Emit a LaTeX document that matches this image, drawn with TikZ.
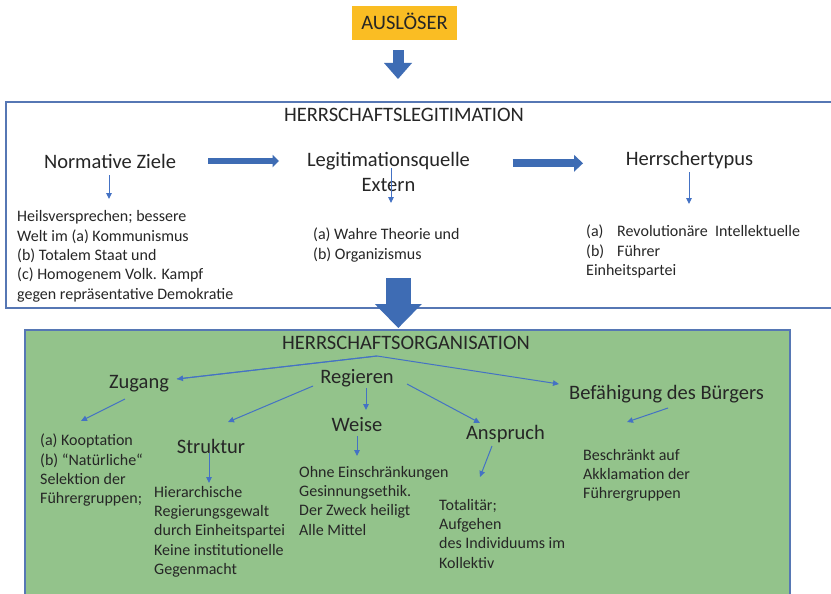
\documentclass[tikz,border=0pt]{standalone}
\usepackage{fontspec}
\setmainfont{Carlito}
\usetikzlibrary{arrows.meta}
\definecolor{ink}{HTML}{262626}
\definecolor{amber}{HTML}{FABD23}
\definecolor{frameblue}{HTML}{5677B4}
\definecolor{leaf}{HTML}{93C38B}
\definecolor{linkblue}{HTML}{4472C4}
\definecolor{blockblue}{HTML}{3E6CB4}

\begin{document}
\begin{tikzpicture}[x=1pt,y=-1pt,
  heading/.style={font=\fontsize{20.5}{25}\selectfont, text=ink, inner sep=0pt, text height=14pt, text depth=4pt},
  body/.style={font=\fontsize{16}{19.3}\selectfont, text=ink, inner sep=0pt, align=left, anchor=north west},
  frame/.style={draw=frameblue, line width=1.6pt, inner sep=0pt, anchor=north west},
  conn/.style={draw=linkblue, line width=1pt, -{Triangle[length=6pt,width=5.5pt]}},
  fat/.style n args={3}{draw=blockblue, line width=#1, -{Triangle[length=#2,width=#3,line width=0pt]}}]

\useasboundingbox (0,0) rectangle (831,594);
\fill[white] (0,0) rectangle (831,594);

% the two frames
\node[frame, minimum width=840pt, minimum height=206pt] (legit) at (5,101) {};
\node[frame, fill=leaf, minimum width=765pt, minimum height=280pt] (org) at (24,329) {};

% trigger
\node[fill=amber, minimum width=105pt, minimum height=34pt, inner sep=0pt,
      font=\fontsize{20.5}{25}\selectfont, text=ink, text height=13pt, text depth=0pt]
      (ausl) at (404.5,23) {AUSLÖSER};

% legitimation of rule
\node[heading] (legtitle) at (404,116.5) {HERRSCHAFTSLEGITIMATION};
\node[heading] (norm) at (110,163.5) {Normative Ziele};
\node[font=\fontsize{20.5}{25}\selectfont, text=ink, inner sep=0pt, align=center, anchor=north]
      (legq) at (388.5,152.5) {Legitimationsquelle\\Extern};
\node[heading] (herr) at (689.5,160.5) {Herrschertypus};

\node[body] (heils) at (17,210.5) {Heilsversprechen; bessere\\Welt im (a) Kommunismus\\(b) Totalem Staat und\\(c) Homogenem Volk. Kampf\\gegen repräsentative Demokratie};
\node[body] (wahre) at (313,227.8) {(a) Wahre Theorie und\\(b) Organizismus};
\node[body] (revol) at (586,224.8) {\makebox[31pt][l]{(a)}Revolutionäre\ \ Intellektuelle\\\makebox[31pt][l]{(b)}Führer\\Einheitspartei};

% organisation of rule
\node[heading] (orgtitle) at (406,344.7) {HERRSCHAFTSORGANISATION};
\node[heading] (zug) at (139,383.7) {Zugang};
\node[heading] (reg) at (357,378.4) {Regieren};
\node[heading] (bef) at (666.5,394) {Befähigung des Bürgers};
\node[heading] (struk) at (211,448.7) {Struktur};
\node[heading] (weise) at (357,426) {Weise};
\node[heading] (ansp) at (505.5,434) {Anspruch};

\node[body] (koop) at (40,433.8) {(a) Kooptation\\(b) “Natürliche“\\Selektion der\\Führergruppen;};
\node[body] (hier) at (154,485.8) {Hierarchische\\Regierungsgewalt\\durch Einheitspartei\\Keine institutionelle\\Gegenmacht};
\node[body] (ohne) at (299,465.8) {Ohne Einschränkungen\\Gesinnungsethik.\\Der Zweck heiligt\\Alle Mittel};
\node[body] (total) at (439,498.8) {Totalitär;\\Aufgehen\\des Individuums im\\Kollektiv};
\node[body] (beschr) at (583,448.8) {Beschränkt auf\\Akklamation der\\Führergruppen};

% block arrows
\draw[fat={11pt}{16pt}{28pt}] ([shift={(-6.5,10)}]ausl.south) -- ([shift={(393,-22)}]legit.north west);
\draw[fat={6pt}{6.5pt}{12.5pt}] ([shift={(98,-2.5)}]norm.center) -- ([shift={(-109.5,8.5)}]legq.north);
\draw[fat={8pt}{9pt}{17pt}] ([shift={(124,10.8)}]legq.north) -- ([shift={(-106.5,2.8)}]herr.center);
\draw[fat={24.5pt}{24pt}{47pt}] ([shift={(393.3,177)}]legit.north west) -- ([shift={(374.3,-1)}]org.north west);

% thin connectors, upper frame
\draw[conn] ([shift={(-1,11.5)}]norm.center) -- ([shift={(92,-11.5)}]heils.north west);
\draw[conn] ([shift={(2.5,15.5)}]legq.north) -- ([shift={(78,-24.8)}]wahre.north west);
\draw[conn] ([shift={(-0.5,11.5)}]herr.center) -- ([shift={(103,-20.8)}]revol.north west);

% thin connectors, lower frame
\draw[conn] ([shift={(38,-4.7)}]zug.center) -- ([shift={(-29,11.3)}]orgtitle.center) -- ([shift={(-107.5,-10)}]bef.center);
\draw[draw=linkblue, line width=1pt, {Triangle[length=6pt,width=5.5pt]}-] ([shift={(38,-4.7)}]zug.center) -- ([shift={(-29,11.3)}]orgtitle.center);
\draw[conn] ([shift={(-14,15.3)}]zug.center) -- ([shift={(41,-12.8)}]koop.north west);
\draw[conn] ([shift={(-44,7.6)}]reg.center) -- ([shift={(17,-26.7)}]struk.center);
\draw[conn] ([shift={(9,9.6)}]reg.center) -- ([shift={(9,-16)}]weise.center);
\draw[conn] ([shift={(50,5.6)}]reg.center) -- ([shift={(-25.5,-11)}]ansp.center);
\draw[conn] ([shift={(-2,4.3)}]struk.center) -- ([shift={(55,-2.8)}]hier.north west);
\draw[conn] ([shift={(0,10)}]weise.center) -- ([shift={(58,-9.8)}]ohne.north west);
\draw[conn] ([shift={(-13.5,12)}]ansp.center) -- ([shift={(41,-21.8)}]total.north west);
\draw[conn] ([shift={(1.5,14)}]bef.center) -- ([shift={(44,-26.8)}]beschr.north west);
\end{tikzpicture}
\end{document}
